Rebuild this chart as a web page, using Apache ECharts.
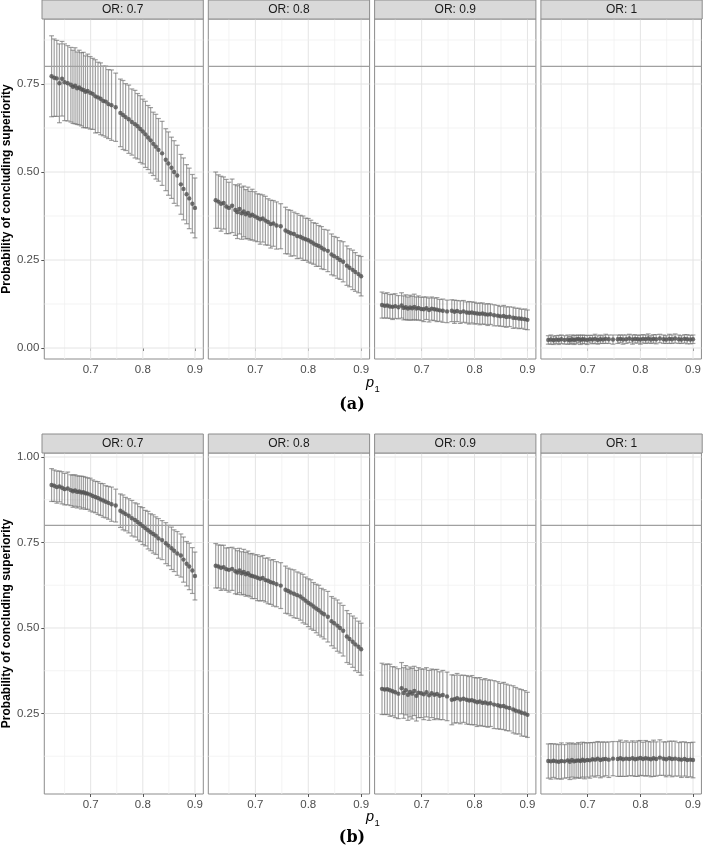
<!DOCTYPE html>
<html>
<head>
<meta charset="utf-8">
<script src="https://cdn.jsdelivr.net/npm/echarts@6/dist/echarts.min.js"></script>
<style>html,body{margin:0;padding:0;background:#fff}#c{width:704px;height:850px}</style>
</head>
<body>
<div id="c"></div>
<script>
// ---------------- data ----------------
const p1 = [0.625,0.630,0.635,0.640,0.645,0.650,0.656,
  0.662,0.666,0.670,0.674,0.678,0.682,0.686,0.690,0.694,0.699,
  0.704,0.709,0.714,0.719,0.724,0.729,0.734,0.740,0.748,
  0.757,0.762,0.767,0.773,0.779,0.785,0.790,0.795,0.800,
  0.805,0.810,0.815,0.820,0.825,0.830,0.837,
  0.844,0.849,0.855,0.860,0.866,
  0.873,0.878,0.884,0.889,0.895,0.900];

const facetLabels = ['OR: 0.7','OR: 0.8','OR: 0.9','OR: 1'];
const xTickVals = [0.7,0.8,0.9];
const xMinorVals = [0.65,0.75,0.85];
const yTickValsA = [0,0.25,0.5,0.75];
const yTickValsB = [0.25,0.5,0.75,1.0];
const yMinorVals = [0.125,0.375,0.625,0.875];
const refValue = 0.8;
const panelTags = ['(a)','(b)'];

// panel (a) estimates and CI half-widths
const estA07 = [.772,.768,.766,.752,.765,.755,.752,
  .748,.742,.745,.738,.740,.735,.733,.728,.730,.725,
  .722,.715,.712,.708,.702,.700,.693,.690,.684,
  .668,.662,.656,.650,.642,.636,.630,.622,.615,
  .607,.598,.590,.580,.572,.563,.553,
  .535,.524,.512,.500,.490,
  .465,.452,.437,.425,.410,.398];
const hwA07 = [.115,.110,.108,.112,.106,.109,.107,.106,.104,.108,
  .103,.106,.104,.107,.102,.105,.103,.101,.104,.100,
  .102,.099,.101,.098,.100,.097,.096,.098,.095,.097,
  .094,.096,.093,.095,.092,.094,.091,.093,.090,.092,
  .089,.091,.088,.090,.087,.089,.086,.085,.088,.084,
  .086,.083,.085];

const estA08 = [.420,.416,.410,.412,.402,.398,.404,
  .392,.386,.395,.383,.388,.380,.384,.376,.379,.374,
  .370,.366,.368,.362,.358,.352,.354,.348,.346,
  .334,.330,.326,.324,.318,.316,.312,.309,.306,
  .302,.297,.293,.290,.285,.280,.276,
  .266,.261,.256,.250,.245,
  .234,.228,.222,.216,.210,.204];
const hwA08 = [.080,.076,.078,.074,.077,.073,.076,.072,.075,.071,
  .074,.072,.070,.073,.069,.072,.070,.068,.071,.067,
  .069,.066,.068,.065,.067,.064,.066,.063,.065,.062,
  .064,.061,.063,.060,.062,.061,.059,.061,.058,.060,
  .057,.059,.058,.056,.058,.055,.057,.056,.054,.056,
  .055,.053,.056];

const estA09 = [.122,.120,.121,.118,.117,.119,.116,
  .121,.114,.116,.112,.115,.113,.117,.112,.114,.111,
  .110,.113,.108,.112,.110,.109,.107,.106,.104,
  .106,.103,.105,.102,.104,.101,.100,.101,.099,
  .098,.097,.098,.096,.095,.096,.093,
  .092,.090,.091,.088,.089,
  .086,.085,.084,.083,.082,.080];
const hwA09 = [.037,.035,.036,.034,.036,.035,.033,.036,.034,.035,
  .033,.035,.034,.036,.033,.034,.033,.035,.032,.034,
  .033,.032,.034,.031,.033,.032,.031,.033,.030,.032,
  .031,.030,.032,.030,.031,.029,.031,.030,.029,.031,
  .029,.030,.029,.028,.030,.029,.028,.030,.028,.029,
  .027,.029,.028];

const estA10 = [.023,.024,.022,.024,.023,.025,.023,.024,.022,.025,
  .023,.024,.026,.023,.025,.024,.023,.025,.024,.026,
  .023,.025,.024,.026,.025,.024,.025,.026,.024,.025,
  .027,.024,.026,.025,.024,.026,.025,.027,.024,.026,
  .025,.027,.025,.024,.026,.025,.027,.025,.024,.026,
  .025,.024,.025];
const hwA10 = [.012,.013,.012,.011,.013,.012,.012,.013,.011,.012,
  .013,.012,.011,.013,.012,.012,.013,.011,.012,.013,
  .012,.012,.011,.013,.012,.013,.012,.011,.013,.012,
  .012,.013,.012,.011,.013,.012,.012,.013,.011,.012,
  .013,.012,.012,.011,.013,.012,.013,.012,.011,.012,
  .013,.012,.012];

// panel (b) estimates and CI half-widths
const estB07 = [.918,.916,.912,.914,.910,.906,.908,
  .903,.900,.902,.898,.899,.896,.897,.894,.893,.890,
  .886,.883,.880,.876,.873,.869,.866,.862,.858,
  .843,.838,.833,.828,.821,.816,.810,.804,.798,
  .792,.786,.780,.775,.770,.762,.757,
  .748,.741,.733,.726,.718,
  .712,.700,.688,.680,.668,.652];
const hwB07 = [.048,.046,.047,.045,.047,.046,.048,.045,.047,.046,
  .047,.045,.048,.046,.047,.046,.048,.047,.046,.048,
  .047,.049,.047,.048,.050,.048,.049,.051,.049,.050,
  .052,.050,.053,.051,.054,.052,.055,.054,.056,.055,
  .058,.057,.060,.059,.062,.061,.064,.063,.066,.065,
  .068,.067,.070];

const estB08 = [.682,.680,.676,.678,.672,.670,.673,
  .666,.662,.668,.660,.664,.657,.660,.654,.652,.650,
  .647,.644,.646,.640,.638,.634,.632,.628,.624,
  .612,.608,.604,.600,.596,.592,.586,.580,.574,
  .569,.563,.557,.552,.545,.540,.533,
  .520,.514,.507,.500,.492,
  .475,.468,.460,.452,.445,.438];
const hwB08 = [.065,.063,.066,.064,.062,.065,.063,.066,.064,.065,
  .063,.066,.064,.065,.063,.066,.064,.067,.065,.066,
  .064,.067,.065,.068,.066,.067,.069,.067,.068,.070,
  .068,.069,.071,.069,.070,.072,.070,.071,.073,.071,
  .072,.074,.072,.073,.075,.073,.074,.076,.074,.075,
  .077,.075,.076];

const estB09 = [.322,.320,.321,.318,.315,.312,.308,
  .324,.310,.318,.305,.313,.308,.316,.302,.311,.309,
  .306,.312,.303,.309,.305,.307,.302,.304,.300,
  .290,.292,.295,.291,.293,.290,.288,.289,.286,
  .283,.285,.281,.282,.279,.280,.276,
  .274,.271,.272,.268,.266,
  .262,.258,.256,.252,.250,.246];
const hwB09 = [.075,.073,.074,.076,.072,.074,.073,.075,.074,.072,
  .075,.073,.074,.072,.074,.073,.071,.074,.072,.073,
  .071,.073,.072,.070,.072,.071,.073,.070,.072,.071,
  .069,.071,.070,.072,.069,.071,.070,.068,.070,.069,
  .068,.070,.069,.067,.069,.068,.067,.069,.068,.066,
  .068,.067,.066];

const estB10 = [.111,.110,.112,.110,.109,.111,.110,
  .113,.109,.114,.110,.112,.113,.111,.115,.112,.114,
  .113,.116,.115,.118,.114,.116,.117,.115,.118,
  .117,.119,.116,.118,.117,.119,.116,.118,.120,
  .117,.119,.118,.116,.119,.117,.121,
  .118,.116,.119,.117,.118,
  .116,.115,.117,.114,.115,.114];
const hwB10 = [.050,.052,.049,.051,.050,.053,.049,.051,.052,.050,
  .051,.049,.052,.050,.051,.053,.050,.052,.049,.051,
  .050,.052,.051,.049,.052,.050,.051,.053,.050,.052,
  .049,.051,.050,.052,.051,.049,.052,.050,.051,.053,
  .050,.052,.049,.051,.050,.052,.051,.049,.052,.050,
  .051,.050,.052];

// ---------------- layout / style ----------------
const FONT = '"Liberation Sans", Arial, Helvetica, sans-serif';
const X_MIN = 0.611, X_MAX = 0.916;
const FACET_LEFT0 = 42, FACET_STEP = 166.3, FACET_W = 161.3, STRIP_H = 19;

const rows = [
  {top: 19, height: 340, yMin: -0.0312, yMax: 0.9347, yTicks: yTickValsA,
   est: [estA07, estA08, estA09, estA10], hw: [hwA07, hwA08, hwA09, hwA10],
   tagY: 405, xTitleY: 383},
  {top: 453, height: 341, yMin: 0.0146, yMax: 1.0117, yTicks: yTickValsB,
   est: [estB07, estB08, estB09, estB10], hw: [hwB07, hwB08, hwB09, hwB10],
   tagY: 838, xTitleY: 817}
];

function renderGridLines(params, api) {
  const v = api.value(0), kind = api.value(1);
  const cs = params.coordSys;
  const major = (kind === 0 || kind === 2);
  const style = {stroke: major ? '#e4e4e4' : '#f0f0f0', lineWidth: major ? 1 : 0.8};
  if (kind < 2) {
    const x = api.coord([v, 0.5])[0];
    return {type: 'line', shape: {x1: x, y1: cs.y, x2: x, y2: cs.y + cs.height}, style};
  }
  const y = api.coord([0.75, v])[1];
  return {type: 'line', shape: {x1: cs.x, y1: y, x2: cs.x + cs.width, y2: y}, style};
}

function renderRef(params, api) {
  const cs = params.coordSys;
  const y = api.coord([api.value(0), api.value(1)])[1];
  return {type: 'line', shape: {x1: cs.x, y1: y, x2: cs.x + cs.width, y2: y},
          style: {stroke: '#a0a0a0', lineWidth: 1.1}};
}

function renderErr(params, api) {
  const x = api.value(0), lo = api.value(1), hi = api.value(2);
  const a = api.coord([x, lo]), b = api.coord([x, hi]);
  const hwPx = 2.4;
  const style = {stroke: 'rgba(115,115,115,0.68)', lineWidth: 1.2};
  return {type: 'group', children: [
    {type: 'line', shape: {x1: a[0], y1: a[1], x2: b[0], y2: b[1]}, style},
    {type: 'line', shape: {x1: a[0] - hwPx, y1: a[1], x2: a[0] + hwPx, y2: a[1]}, style},
    {type: 'line', shape: {x1: b[0] - hwPx, y1: b[1], x2: b[0] + hwPx, y2: b[1]}, style}
  ]};
}

const grids = [], xAxes = [], yAxes = [], series = [], graphics = [];

rows.forEach((row, r) => {
  for (let f = 0; f < 4; f++) {
    const i = r * 4 + f;
    const left = FACET_LEFT0 + f * FACET_STEP;
    grids.push({left: left, top: row.top, width: FACET_W, height: row.height,
      show: true, borderColor: '#8c8c8c', borderWidth: 1, backgroundColor: '#fff'});
    xAxes.push({gridIndex: i, type: 'value', min: X_MIN, max: X_MAX,
      axisLine: {show: false}, splitLine: {show: false},
      axisTick: {show: true, customValues: xTickVals, length: 3, lineStyle: {color: '#555', width: 1}},
      axisLabel: {show: true, customValues: xTickVals, formatter: v => v.toFixed(1),
        color: '#4d4d4d', fontSize: 11.5, fontFamily: FONT, margin: 5}});
    yAxes.push({gridIndex: i, type: 'value', min: row.yMin, max: row.yMax,
      axisLine: {show: false}, splitLine: {show: false},
      axisTick: {show: f === 0, customValues: row.yTicks, length: 3, lineStyle: {color: '#555', width: 1}},
      axisLabel: {show: f === 0, customValues: row.yTicks, formatter: v => v.toFixed(2),
        color: '#4d4d4d', fontSize: 11.5, fontFamily: FONT, margin: 5},
      name: f === 0 ? 'Probability of concluding superiority' : '',
      nameLocation: 'middle', nameGap: 28,
      nameTextStyle: {fontWeight: 'bold', fontSize: 12, color: '#000', fontFamily: FONT}});

    const gl = [];
    xTickVals.forEach(v => gl.push([v, 0]));
    xMinorVals.forEach(v => gl.push([v, 1]));
    row.yTicks.forEach(v => gl.push([v, 2]));
    yMinorVals.filter(v => v > row.yMin && v < row.yMax).forEach(v => gl.push([v, 3]));
    series.push({type: 'custom', xAxisIndex: i, yAxisIndex: i, z: 1, silent: true,
      renderItem: renderGridLines, data: gl, encode: {x: -1, y: -1}});

    const est = row.est[f], hw = row.hw[f];
    series.push({type: 'custom', xAxisIndex: i, yAxisIndex: i, z: 2, silent: true,
      renderItem: renderErr, encode: {x: 0, y: [1, 2]},
      data: p1.map((x, k) => [x, est[k] - hw[k], est[k] + hw[k]])});

    series.push({type: 'custom', xAxisIndex: i, yAxisIndex: i, z: 3, silent: true,
      renderItem: renderRef, encode: {x: 0, y: 1}, data: [[0.75, refValue]]});

    series.push({type: 'scatter', xAxisIndex: i, yAxisIndex: i, z: 4, silent: true,
      symbol: 'circle', symbolSize: 4.4, itemStyle: {color: '#505050'},
      data: p1.map((x, k) => [x, est[k]])});

    // strip
    graphics.push({type: 'rect', shape: {x: left, y: row.top - STRIP_H, width: FACET_W, height: STRIP_H},
      style: {fill: '#d9d9d9', stroke: '#8c8c8c', lineWidth: 1}, z: 10});
    graphics.push({type: 'text', z: 11, style: {text: facetLabels[f], x: left + FACET_W / 2, y: row.top - STRIP_H / 2 + 0.5,
      textAlign: 'center', textVerticalAlign: 'middle', align: 'center', verticalAlign: 'middle',
      font: '12px ' + FONT, fill: '#1a1a1a'}});
  }
  const cx = FACET_LEFT0 + (3 * FACET_STEP + FACET_W) / 2;
  graphics.push({type: 'text', z: 11, style: {text: 'p', x: cx - 2, y: row.xTitleY,
    textAlign: 'center', textVerticalAlign: 'middle', align: 'center', verticalAlign: 'middle',
    font: 'italic 14.5px ' + FONT, fill: '#000'}});
  graphics.push({type: 'text', z: 11, style: {text: '1', x: cx + 2.5, y: row.xTitleY + 6,
    textAlign: 'left', textVerticalAlign: 'middle', align: 'left', verticalAlign: 'middle',
    font: '9.5px ' + FONT, fill: '#000'}});
  graphics.push({type: 'text', z: 11, style: {text: panelTags[r], x: 352, y: row.tagY,
    textAlign: 'center', textVerticalAlign: 'middle', align: 'center', verticalAlign: 'middle',
    font: 'bold 16px "DejaVu Serif", serif', fill: '#000'}});
});

const chart = echarts.init(document.getElementById('c'), null, {renderer: 'canvas'});
chart.setOption({
  animation: false,
  backgroundColor: '#fff',
  grid: grids,
  xAxis: xAxes,
  yAxis: yAxes,
  series: series,
  graphic: {elements: graphics}
});
</script>
</body>
</html>
